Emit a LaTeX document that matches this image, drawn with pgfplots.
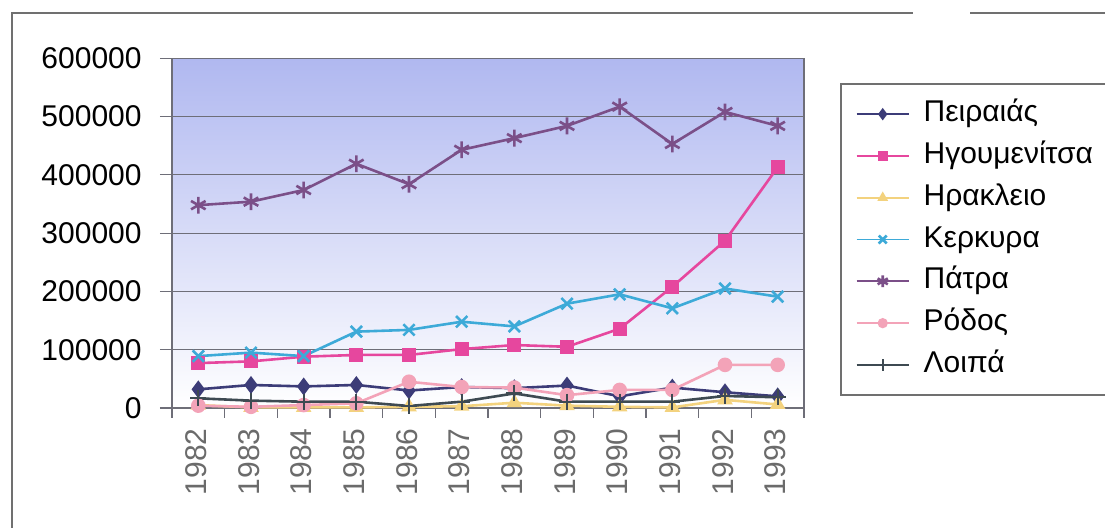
\documentclass[border=0pt]{standalone}
\usepackage{fontspec}
\setmainfont{Liberation Sans}
\usepackage{pgfplots}
\usepackage{pgfplotstable}
\pgfplotsset{compat=1.18}

\definecolor{cPeir}{HTML}{3C3C78}
\definecolor{cIgou}{HTML}{E6479E}
\definecolor{cIrak}{HTML}{F3D27E}
\definecolor{cKerk}{HTML}{3DAAD8}
\definecolor{cPatr}{HTML}{7B4F88}
\definecolor{cRodo}{HTML}{F3A3B8}
\definecolor{cLoip}{HTML}{3E4A52}
\definecolor{frameGray}{HTML}{707070}
\definecolor{gridGray}{HTML}{6E6E78}
\definecolor{bgTop}{HTML}{B0B8F0}
\definecolor{bgMid}{HTML}{D6DAF4}

% passenger traffic per port, 1982--1993
\pgfplotstableread{
idx year peiraias igoumenitsa irakleio kerkyra patra rodos loipa
0  1982 32000  77000  5000  89000 348000  4000 16600
1  1983 39500  80000  1000  95000 354000  2000 12600
2  1984 37000  88000  1000  89000 374000  5000 10800
3  1985 39500  91000  1000 131000 419000  8000 10800
4  1986 30000  91000  2000 134000 384000 45000  3400
5  1987 36000 101000  3000 148000 443000 36000 10800
6  1988 34000 108000  9000 140000 463000 35000 25000
7  1989 38500 105000  4000 179000 484000 22000 10800
8  1990 20000 136000  2000 195000 517000 31000 10800
9  1991 35000 208000  1000 171000 453000 31000 10800
10 1992 27000 287000 14000 205000 508000 74000 20600
11 1993 20000 413000  6000 191000 484000 74000 18400
}\traffic

\begin{document}
\begin{tikzpicture}
\path[use as bounding box] (0pt,0pt) rectangle (552.5pt,264pt);
% outer frame (left and top edges)
\draw[frameGray, line width=1pt] (5.75pt,0pt) -- (5.75pt,257.6pt) -- (456.5pt,257.6pt);
\draw[frameGray, line width=1pt] (485pt,257.6pt) -- (552.5pt,257.6pt);

\begin{axis}[
  at={(86pt,60pt)}, anchor=south west,
  scale only axis, width=316pt, height=174.85pt,
  xmin=-0.5, xmax=11.5, ymin=0, ymax=600000,
  xtick={0,...,11},
  xticklabels={1982,1983,1984,1985,1986,1987,1988,1989,1990,1991,1992,1993},
  minor xtick={-0.5,0.5,...,11.5},
  ytick={0,100000,...,600000},
  yticklabels={0,100000,200000,300000,400000,500000,600000},
  scaled y ticks=false,
  tick align=outside,
  major tick length=6pt,
  minor tick length=5pt,
  x tick style={draw=none},
  minor x tick style={draw=gridGray, line width=0.6pt},
  y tick style={draw=gridGray, line width=0.6pt},
  xtick pos=bottom, ytick pos=left,
  ymajorgrids,
  major grid style={gridGray, line width=0.6pt},
  axis line style={gridGray, line width=0.7pt},
  axis background/.style={shade, top color=bgTop, middle color=bgMid, bottom color=white},
  ticklabel style={font=\fontsize{15}{18}\selectfont},
  yticklabel style={inner sep=0pt, xshift=-9pt, text=black},
  xticklabel style={rotate=90, anchor=east, inner sep=0pt, xshift=-4pt, yshift=1pt, text=black!58},
  clip=false,
  every axis plot/.append style={line width=1.3pt},
  legend cell align=left,
  legend style={
    at={(1.057,0.9286)}, anchor=north west,
    draw=frameGray, fill=white, line width=0.8pt,
    font=\fontsize{15}{18}\selectfont,
    inner xsep=7.5pt, inner ysep=8pt,
    row sep=6.8pt,
    nodes={inner sep=0pt, text height=10.8pt, text depth=3.3pt},
    /tikz/every odd column/.append style={column sep=7pt},
  },
  legend image code/.code={
    \draw[mark repeat=2, mark phase=2, line width=0.9pt,
          every mark/.append style={scale=0.7}]
      plot coordinates {(0pt,0pt) (13pt,0pt) (26pt,0pt)};
  },
]
\addplot[color=cPeir, mark=diamond*, mark size=3.4pt,
  mark options={solid, fill=cPeir}] table[x=idx, y=peiraias] {\traffic};
\addlegendentry{Πειραιάς}
\addplot[color=cIgou, mark=square*, mark size=2.8pt,
  mark options={solid, fill=cIgou}] table[x=idx, y=igoumenitsa] {\traffic};
\addlegendentry{Ηγουμενίτσα}
\addplot[color=cIrak, mark=triangle*, mark size=3.2pt,
  mark options={solid, fill=cIrak}] table[x=idx, y=irakleio] {\traffic};
\addlegendentry{Ηρακλειο}
\addplot[color=cKerk, mark=x, mark size=4pt,
  mark options={solid, line width=1.3pt}] table[x=idx, y=kerkyra] {\traffic};
\addlegendentry{Κερκυρα}
\addplot[color=cPatr, mark=asterisk, mark size=4.2pt,
  mark options={solid, line width=1.3pt}] table[x=idx, y=patra] {\traffic};
\addlegendentry{Πάτρα}
\addplot[color=cRodo, mark=*, mark size=3pt,
  mark options={solid, fill=cRodo}] table[x=idx, y=rodos] {\traffic};
\addlegendentry{Ρόδος}
\addplot[color=cLoip, mark=+, mark size=4pt,
  mark options={solid, line width=1.1pt}] table[x=idx, y=loipa] {\traffic};
\addlegendentry{Λοιπά}
\end{axis}
\end{tikzpicture}
\end{document}
